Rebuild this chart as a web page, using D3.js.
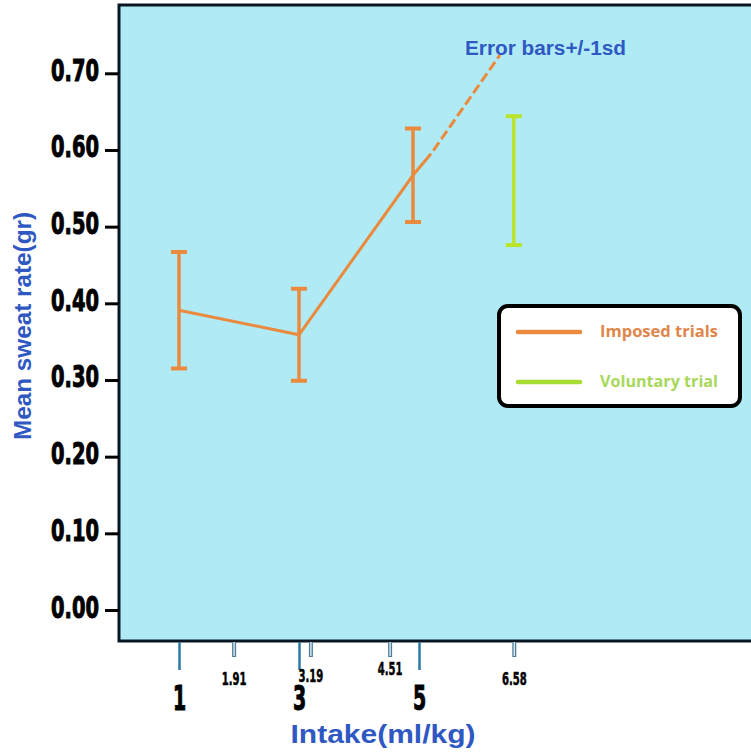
<!DOCTYPE html>
<html>
<head>
<meta charset="utf-8">
<script src="https://cdn.jsdelivr.net/npm/d3@7/dist/d3.min.js"></script>
<style>
  html, body { margin: 0; padding: 0; background: #fff; }
  svg { display: block; }
</style>
</head>
<body>
<div id="grafico"></div>
<script>
// dados
const imposedIntake = [1, 3, 4.9];
const imposedMean = [0.391, 0.359, 0.567];
const imposedSd = [0.076, 0.060, 0.061];

const voluntaryIntake = [6.58];
const voluntaryMean = [0.560];
const voluntarySd = [0.084];

const yTicks = [0, 0.1, 0.2, 0.3, 0.4, 0.5, 0.6, 0.7];
const xMajorTicks = [1, 3, 5];
const xMinorTicks = [1.91, 3.19, 4.51, 6.58];

// linha tracejada até o rótulo das barras de erro
const leaderSolidEnd = [5.2, 0.595];
const leaderEnd = [6.35, 0.724];

const legendLabels = ["Imposed trials", "Voluntary trial"];

const width = 751, height = 752;
const orange = "#e98a3f", green = "#b9e42a", blue = "#2f58c3";
const impact = "'DejaVu Sans Condensed', 'DejaVu Sans', sans-serif";
const sans = "'Liberation Sans', Arial, sans-serif";

const svg = d3.select("#grafico").append("svg")
  .attr("width", width)
  .attr("height", height);

const x = d3.scaleLinear().domain([1, 5]).range([179, 419]);
const y = d3.scaleLinear().domain([0, 0.7]).range([610, 73.3]);

// área do gráfico
svg.append("rect")
  .attr("x", 119).attr("y", 5)
  .attr("width", width + 10 - 119).attr("height", 641 - 5)
  .attr("fill", "#b0ebf5")
  .attr("stroke", "#0a1622")
  .attr("stroke-width", 3);

// aperta o texto pra parecer com a fonte condensada
function condense(sel, f) {
  sel.each(function () {
    const len = this.getComputedTextLength();
    d3.select(this).attr("textLength", len * f).attr("lengthAdjust", "spacingAndGlyphs");
  });
}

// eixo Y
const yAxis = svg.append("g")
  .attr("transform", "translate(119,0)")
  .call(d3.axisLeft(y).tickValues(yTicks).tickFormat(d3.format(".2f")).tickSize(14).tickSizeOuter(0));
yAxis.select(".domain").remove();
yAxis.selectAll(".tick line").attr("stroke", "#000").attr("stroke-width", 3);
yAxis.selectAll(".tick text")
  .attr("x", -20).attr("dy", 7)
  .attr("fill", "#000").attr("stroke", "#000").attr("stroke-width", 1)
  .style("font-family", impact).style("font-weight", "bold").style("font-size", "30px")
  .call(condense, 0.72);

// eixo X principal
const xAxis = svg.append("g")
  .attr("transform", "translate(0,642)")
  .call(d3.axisBottom(x).tickValues(xMajorTicks).tickFormat(d3.format("d")).tickSize(28).tickSizeOuter(0));
xAxis.select(".domain").remove();
xAxis.selectAll(".tick line").attr("stroke", "#2c7aa3").attr("stroke-width", 2.5);
xAxis.selectAll(".tick text")
  .attr("y", 68).attr("dy", 0)
  .attr("fill", "#000").attr("stroke", "#000").attr("stroke-width", 1)
  .style("font-family", impact).style("font-weight", "bold").style("font-size", "34px")
  .call(condense, 0.62);

// eixo X secundário (valores de ingestão)
const minorLift = { 3.19: 3, 4.51: 10 };
const xMinor = svg.append("g")
  .attr("transform", "translate(0,642)")
  .call(d3.axisBottom(x).tickValues(xMinorTicks).tickFormat(d3.format(".2f")).tickSize(15).tickSizeOuter(0));
xMinor.select(".domain").remove();
xMinor.selectAll(".tick line").attr("stroke", "#4d7d98").attr("stroke-width", 4);
xMinor.selectAll(".tick").append("line")
  .attr("y2", 14).attr("stroke", "#d6e7ef").attr("stroke-width", 1.5);
xMinor.selectAll(".tick text")
  .attr("y", d => 43 - (minorLift[d] || 0)).attr("dy", 0)
  .attr("fill", "#000").attr("stroke", "#000").attr("stroke-width", 0.5)
  .style("font-family", impact).style("font-weight", "bold").style("font-size", "18px")
  .call(condense, 0.62);

// títulos dos eixos
svg.append("text")
  .attr("transform", "translate(31,326) rotate(-90)")
  .attr("text-anchor", "middle")
  .attr("fill", blue)
  .style("font-family", sans).style("font-weight", "bold").style("font-size", "24px")
  .attr("textLength", 228).attr("lengthAdjust", "spacingAndGlyphs")
  .text("Mean sweat rate(gr)");

svg.append("text")
  .attr("x", 383).attr("y", 743)
  .attr("text-anchor", "middle")
  .attr("fill", blue)
  .style("font-family", sans).style("font-weight", "bold").style("font-size", "25px")
  .attr("textLength", 185).attr("lengthAdjust", "spacingAndGlyphs")
  .text("Intake(ml/kg)");

// barras de erro
function errorBars(xs, means, sds, color) {
  const g = svg.append("g").attr("stroke", color).attr("stroke-width", 3.5);
  xs.forEach((xv, i) => {
    const lo = means[i] - sds[i], hi = means[i] + sds[i];
    g.append("line").attr("x1", x(xv)).attr("x2", x(xv)).attr("y1", y(hi)).attr("y2", y(lo));
    g.append("line").attr("x1", x(xv) - 8).attr("x2", x(xv) + 8).attr("y1", y(hi)).attr("y2", y(hi)).attr("stroke-width", 4);
    g.append("line").attr("x1", x(xv) - 8).attr("x2", x(xv) + 8).attr("y1", y(lo)).attr("y2", y(lo)).attr("stroke-width", 4);
  });
}

// linha das médias
const line = d3.line().x(d => x(d[0])).y(d => y(d[1]));
const pts = imposedIntake.map((v, i) => [v, imposedMean[i]]);
svg.append("path")
  .attr("d", line(pts.concat([leaderSolidEnd])))
  .attr("fill", "none").attr("stroke", orange).attr("stroke-width", 3);
svg.append("path")
  .attr("d", line([leaderSolidEnd, leaderEnd]))
  .attr("fill", "none").attr("stroke", orange).attr("stroke-width", 3)
  .attr("stroke-dasharray", "10,4")
  .attr("stroke-dashoffset", 10);

errorBars(imposedIntake, imposedMean, imposedSd, orange);
errorBars(voluntaryIntake, voluntaryMean, voluntarySd, green);

svg.append("text")
  .attr("x", 465).attr("y", 55)
  .attr("fill", blue)
  .style("font-family", sans).style("font-weight", "bold").style("font-size", "20px")
  .attr("textLength", 161).attr("lengthAdjust", "spacingAndGlyphs")
  .text("Error bars+/-1sd");

// legenda
const legend = svg.append("g").attr("transform", "translate(499,306)");
legend.append("rect")
  .attr("width", 241).attr("height", 100).attr("rx", 9)
  .attr("fill", "#fff").attr("stroke", "#000").attr("stroke-width", 4);
const legendColors = [orange, "#a9dc33"];
const legendText = ["#e0864a", "#a8d85a"];
legendLabels.forEach((lab, i) => {
  const ly = 26 + i * 50;
  legend.append("line")
    .attr("x1", 19).attr("x2", 81).attr("y1", ly).attr("y2", ly)
    .attr("stroke", legendColors[i]).attr("stroke-width", 4.5).attr("stroke-linecap", "round");
  legend.append("text")
    .attr("x", 101).attr("y", ly + 5)
    .attr("fill", legendText[i])
    .style("font-family", "'Open Sans', sans-serif").style("font-weight", "700").style("font-size", "16px")
    .attr("textLength", 118).attr("lengthAdjust", "spacingAndGlyphs")
    .text(lab);
});
</script>
</body>
</html>
